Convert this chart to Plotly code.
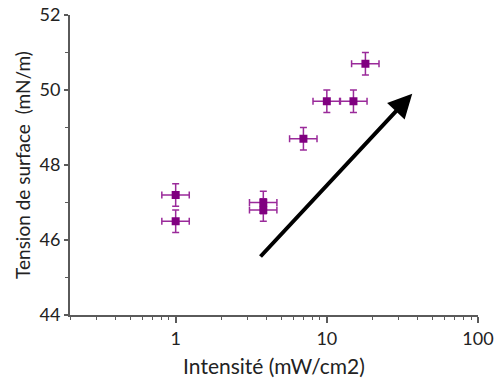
import plotly.graph_objects as go

intensity = [1, 1, 3.8, 3.8, 7, 10, 15, 18]
tension = [47.2, 46.5, 47.0, 46.8, 48.7, 49.7, 49.7, 50.7]
tension_err = [0.3, 0.3, 0.3, 0.3, 0.3, 0.3, 0.3, 0.3]
y_ticks = [44, 46, 48, 50, 52]
x_ticks = [1, 10, 100]
x_minor = [0.2, 0.3, 0.4, 0.5, 0.6, 0.7, 0.8, 0.9,
           2, 3, 4, 5, 6, 7, 8, 9,
           20, 30, 40, 50, 60, 70, 80, 90]

axis_color = "#5a5a5a"
font_family = "Lato, Open Sans, sans-serif"

fig = go.Figure()
fig.add_trace(go.Scatter(
    x=intensity, y=tension, mode="markers",
    marker=dict(symbol="square", size=8, color="#800080"),
    error_y=dict(type="data", array=tension_err, color="#9a2a9a", thickness=1.5, width=3.5),
    error_x=dict(type="percent", value=23, valueminus=19, symmetric=False,
                 color="#9a2a9a", thickness=1.5, width=3.5),
    showlegend=False,
))

fig.add_annotation(
    x=1.565, y=49.9, ax=0.552, ay=45.52,
    xref="x", yref="y", axref="x", ayref="y",
    showarrow=True, arrowhead=2, arrowsize=1.2, arrowwidth=4,
    arrowcolor="black", text="",
)

fig.update_xaxes(
    type="log", range=[-0.699, 2.0], automargin=False,
    tickvals=x_ticks, ticktext=["1", "10", "100"],
    showline=True, linecolor=axis_color, linewidth=2,
    ticks="outside", ticklen=6, tickwidth=1.5, tickcolor=axis_color,
    minor=dict(tickvals=x_minor, ticks="outside", ticklen=3, tickwidth=1.2, tickcolor=axis_color),
    showgrid=False, zeroline=False,
    title=dict(text="Intensité (mW/cm2)", font=dict(size=21, family=font_family, color="#222"), standoff=14),
    tickfont=dict(size=18, family=font_family, color="#222"),
)
fig.update_yaxes(
    range=[44, 52], tickvals=y_ticks, automargin=False,
    showline=True, linecolor=axis_color, linewidth=2,
    ticks="outside", ticklen=4, tickwidth=1.5, tickcolor=axis_color,
    minor=dict(dtick=1, ticks="outside", ticklen=3, tickwidth=1.2, tickcolor=axis_color),
    showgrid=False, zeroline=False,
    title=dict(text="Tension de surface  (mN/m)", font=dict(size=19, family=font_family, color="#222"), standoff=4),
    tickfont=dict(size=18, family=font_family, color="#222"),
)

fig.update_layout(
    width=501, height=378,
    margin=dict(l=70, r=23, t=15, b=63),
    plot_bgcolor="white", paper_bgcolor="white",
)

fig.write_html("out.html")
